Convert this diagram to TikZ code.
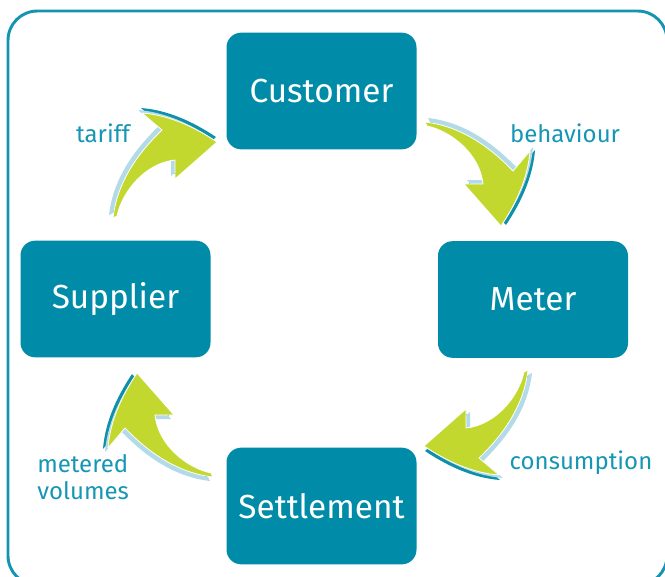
\documentclass[tikz,border=0pt]{standalone}
\usepackage{fontspec}
\setmainfont{Fira Sans}
\definecolor{boxteal}{RGB}{0,140,168}
\definecolor{frameteal}{RGB}{20,148,176}
\definecolor{labelteal}{RGB}{22,150,180}
\definecolor{arrowgreen}{RGB}{195,216,47}
\definecolor{shadelight}{RGB}{178,218,232}
\definecolor{shadedark}{RGB}{14,143,170}
% outline of one curved arrow, tail at the origin (units: px, y downwards)
\def\cyclearrow{(4,-2) .. controls (9,-26) and (32,-55) .. (62,-58) -- (62,-39) -- (104,-76)
  .. controls (80,-92) and (55,-103) .. (29,-105) -- (49,-88)
  .. controls (24,-64) and (4,-35) .. (0,0) -- cycle}
\tikzset{
  stagebox/.style={fill=boxteal, rounded corners=11pt, minimum width=142.5pt,
    minimum height=87.5pt, inner sep=0pt, text=white, font=\fontsize{25}{29}\selectfont},
  flowlabel/.style={text=labelteal, inner sep=0pt, align=left,
    font=\fontsize{18}{20}\selectfont},
}
\newcommand{\drawcyclearrow}[2]{%
  \begin{scope}[shift={(#1)}, rotate=#2]
    \fill[shadedark, shift={(-1,-5)}] \cyclearrow;
    \fill[shadelight, shift={(-4,-3)}] \cyclearrow;
    \fill[arrowgreen, draw=white, line width=0.6pt, line join=round] \cyclearrow;
  \end{scope}}
\begin{document}
\begin{tikzpicture}[x=0.75pt, y=-0.75pt]
  \useasboundingbox (0,0) rectangle (665,576);
  % outer frame
  \draw[frameteal, line width=2.2pt, rounded corners=22pt] (8,11) rectangle (667,585);

  % the four stages
  \node[stagebox] (customer)   at (321.5,91)  {Customer};
  \node[stagebox] (meter)      at (533,299.5) {Meter};
  \node[stagebox] (settlement) at (321.5,506) {Settlement};
  \node[stagebox] (supplier)   at (115.5,299) {Supplier};

  % curved arrows between the stages (tail points)
  \coordinate (tailtariff)   at (113,218);
  \coordinate (tailbehav)    at (425,122);
  \coordinate (tailconsump)  at (528,370);
  \coordinate (tailmetered)  at (213,477);
  \drawcyclearrow{tailtariff}{0}
  \drawcyclearrow{tailbehav}{-90}
  \drawcyclearrow{tailconsump}{180}
  \drawcyclearrow{tailmetered}{90}

  % labels
  \node[flowlabel] (ltariff)   at (103,133) {tariff};
  \node[flowlabel] (lbehav)    at (565,133) {behaviour};
  \node[flowlabel] (lconsump)  at (581,463) {consumption};
  \node[flowlabel, anchor=west] (lmetered) at (37,477) {metered\\volumes};
\end{tikzpicture}
\end{document}
